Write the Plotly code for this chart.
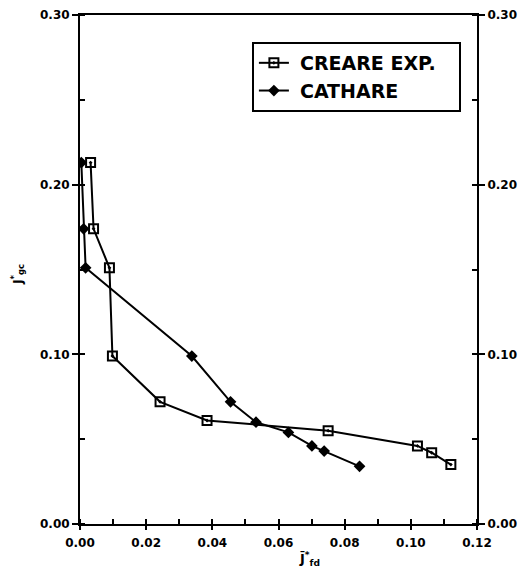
import plotly.graph_objects as go

# Data
creare_x = [0.0032, 0.0041, 0.0089, 0.0098, 0.0242, 0.0384, 0.0750, 0.1020, 0.1063, 0.1121]
creare_y = [0.213, 0.174, 0.151, 0.099, 0.072, 0.061, 0.055, 0.046, 0.042, 0.035]
cathare_x = [0.0004, 0.0011, 0.0017, 0.0338, 0.0455, 0.0532, 0.0630, 0.0701, 0.0738, 0.0845]
cathare_y = [0.213, 0.174, 0.151, 0.099, 0.072, 0.060, 0.054, 0.046, 0.043, 0.034]

x_ticks = [0.00, 0.02, 0.04, 0.06, 0.08, 0.10, 0.12]
x_tick_labels = ["0.00", "0.02", "0.04", "0.06", "0.08", "0.10", "0.12"]
y_ticks = [0.00, 0.10, 0.20, 0.30]
y_tick_labels = ["0.00", "0.10", "0.20", "0.30"]

FONT = "DejaVu Sans, Liberation Sans, Arial, sans-serif"

fig = go.Figure()
fig.add_trace(go.Scatter(
    x=creare_x, y=creare_y, mode="lines+markers",
    name="\u00a0<b>CREARE EXP.</b>\u00a0\u00a0\u00a0",
    line=dict(color="black", width=2),
    marker=dict(symbol="square-open-dot", size=9, color="black", line=dict(width=2, color="black")),
))
fig.add_trace(go.Scatter(
    x=cathare_x, y=cathare_y, mode="lines+markers", name="\u00a0<b>CATHARE</b>",
    line=dict(color="black", width=2),
    marker=dict(symbol="diamond", size=9, color="black"),
))
# invisible trace to anchor the right-hand axis
fig.add_trace(go.Scatter(x=[x_ticks[0]], y=[y_ticks[0]], yaxis="y2", mode="markers",
                         marker=dict(opacity=0), showlegend=False, hoverinfo="skip"))

tickfont = dict(family=FONT, size=12, color="black", weight="bold")

fig.update_layout(
    width=510, height=562,
    margin=dict(l=72, r=41, t=7, b=46),
    paper_bgcolor="white", plot_bgcolor="white",
    showlegend=True,
    legend=dict(
        x=0.433, y=0.947, xanchor="left", yanchor="top",
        bgcolor="white", bordercolor="black", borderwidth=2,
        font=dict(family=FONT, size=19, color="black"),
        itemwidth=30,
    ),
    xaxis=dict(
        range=[0, 0.12], tickvals=x_ticks, ticktext=x_tick_labels,
        showgrid=False, zeroline=False,
        showline=True, linecolor="black", linewidth=2, mirror=True,
        ticks="outside", ticklen=4, tickwidth=2, tickcolor="black",
        tickfont=tickfont, automargin=False, ticklabelstandoff=3,
        minor=dict(dtick=0.01, ticks="inside", ticklen=5, tickwidth=2, tickcolor="black"),
    ),
    yaxis=dict(
        range=[0, 0.30], tickvals=y_ticks, ticktext=y_tick_labels,
        showgrid=False, zeroline=False,
        showline=True, linecolor="black", linewidth=2,
        ticks="outside", ticklen=6, tickwidth=2, tickcolor="black",
        tickfont=tickfont, automargin=False,
        minor=dict(dtick=0.05, ticks="inside", ticklen=5, tickwidth=2, tickcolor="black"),
    ),
    yaxis2=dict(
        range=[0, 0.30], tickvals=y_ticks, ticktext=y_tick_labels,
        overlaying="y", side="right", anchor="x",
        showgrid=False, zeroline=False,
        showline=True, linecolor="black", linewidth=2,
        ticks="outside", ticklen=6, tickwidth=2, tickcolor="black",
        tickfont=tickfont, automargin=False,
        minor=dict(dtick=0.05, ticks="inside", ticklen=5, tickwidth=2, tickcolor="black"),
    ),
)

fig.add_annotation(
    text="<b>J̄<sup>*</sup><sub>fd</sub></b>", xref="paper", yref="paper",
    x=0.578, y=-0.09, xanchor="center", yanchor="bottom", showarrow=False,
    font=dict(family=FONT, size=13, color="black"),
)
fig.add_annotation(
    text="<b>J<sup>*</sup><sub>gc</sub></b>", xref="paper", yref="paper",
    x=-0.158, y=0.49, xanchor="center", yanchor="middle", showarrow=False,
    textangle=-90,
    font=dict(family=FONT, size=12, color="black"),
)

fig.write_html("out.html")
